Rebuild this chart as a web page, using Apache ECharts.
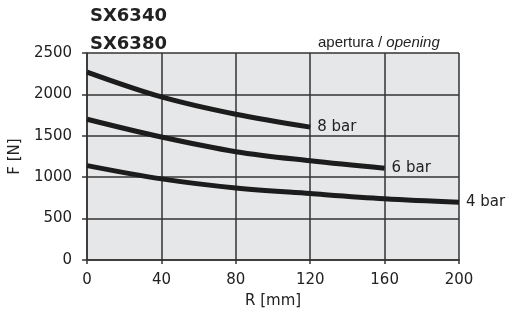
<!DOCTYPE html>
<html><head><meta charset="utf-8">
<script src="https://cdn.jsdelivr.net/npm/echarts@6/dist/echarts.min.js"></script>
<style>html,body{margin:0;padding:0;background:#fff}#c{width:513px;height:315px}</style>
</head><body><div id="c"></div>
<script>
const xValues = [0, 40, 80, 120, 160, 200];
const bar8 = [2270, 1970, 1760, 1605];
const bar6 = [1700, 1485, 1308, 1198, 1108];
const bar4 = [1140, 980, 870, 802, 740, 697];
const seriesNames = ['8 bar', '6 bar', '4 bar'];
const titleLines = ['SX6340', 'SX6380'];

const FONT = 'DejaVu Sans, sans-serif';
const chart = echarts.init(document.getElementById('c'), null, {renderer: 'canvas'});
function mk(name, vals) {
  return {
    name: name, type: 'line', smooth: 0.35, symbol: 'none',
    data: vals.map((v, i) => [xValues[i], v]),
    lineStyle: {color: '#1c1c1c', width: 5},
    endLabel: {show: true, formatter: name, color: '#222', fontSize: 15,
      fontFamily: FONT, distance: 7},
    z: 3
  };
}
chart.setOption({
  animation: false,
  backgroundColor: '#fff',
  title: [{
    text: titleLines.join('\n'), left: 85, top: -3,
    textStyle: {fontSize: 18, fontWeight: 'bold', color: '#222', lineHeight: 28, fontFamily: FONT}
  }, {
    text: '{a|apertura / }{b|opening}', left: 313, top: 30,
    textStyle: {fontWeight: 'normal', rich: {
      a: {fontSize: 15, lineHeight: 16, color: '#222', fontWeight: 'normal', fontFamily: 'Liberation Sans Narrow, Liberation Sans, sans-serif'},
      b: {fontSize: 15, lineHeight: 16, color: '#222', fontWeight: 'normal', fontStyle: 'italic', fontFamily: 'Liberation Sans Narrow, Liberation Sans, sans-serif'}
    }}
  }],
  grid: {left: 86, right: 54, top: 53, bottom: 55, show: true, backgroundColor: '#e6e7e8', borderWidth: 0},
  xAxis: {
    type: 'value', min: 0, max: 200, interval: 40,
    name: 'R [mm]', nameLocation: 'middle', nameGap: 34,
    nameTextStyle: {fontSize: 15, color: '#222', fontFamily: FONT},
    axisLine: {show: true, lineStyle: {color: '#333', width: 1.5}},
    axisTick: {show: true, length: 4, lineStyle: {color: '#333', width: 1.5}},
    axisLabel: {fontSize: 15, color: '#222', margin: 13, fontFamily: FONT},
    splitLine: {show: true, lineStyle: {color: '#333', width: 1.5}}
  },
  yAxis: {
    type: 'value', min: 0, max: 2500, interval: 500,
    name: 'F [N]', nameLocation: 'middle', nameGap: 60,
    nameTextStyle: {fontSize: 15, color: '#222', fontFamily: FONT},
    axisLine: {show: true, lineStyle: {color: '#333', width: 1.5}},
    axisTick: {show: true, length: 5, lineStyle: {color: '#333', width: 1.5}},
    axisLabel: {fontSize: 15, color: '#222', margin: 15, fontFamily: FONT,
      formatter: v => String(v)},
    splitLine: {show: true, lineStyle: {color: '#333', width: 1.5}}
  },
  series: [mk(seriesNames[0], bar8), mk(seriesNames[1], bar6), mk(seriesNames[2], bar4)]
});
</script></body></html>
